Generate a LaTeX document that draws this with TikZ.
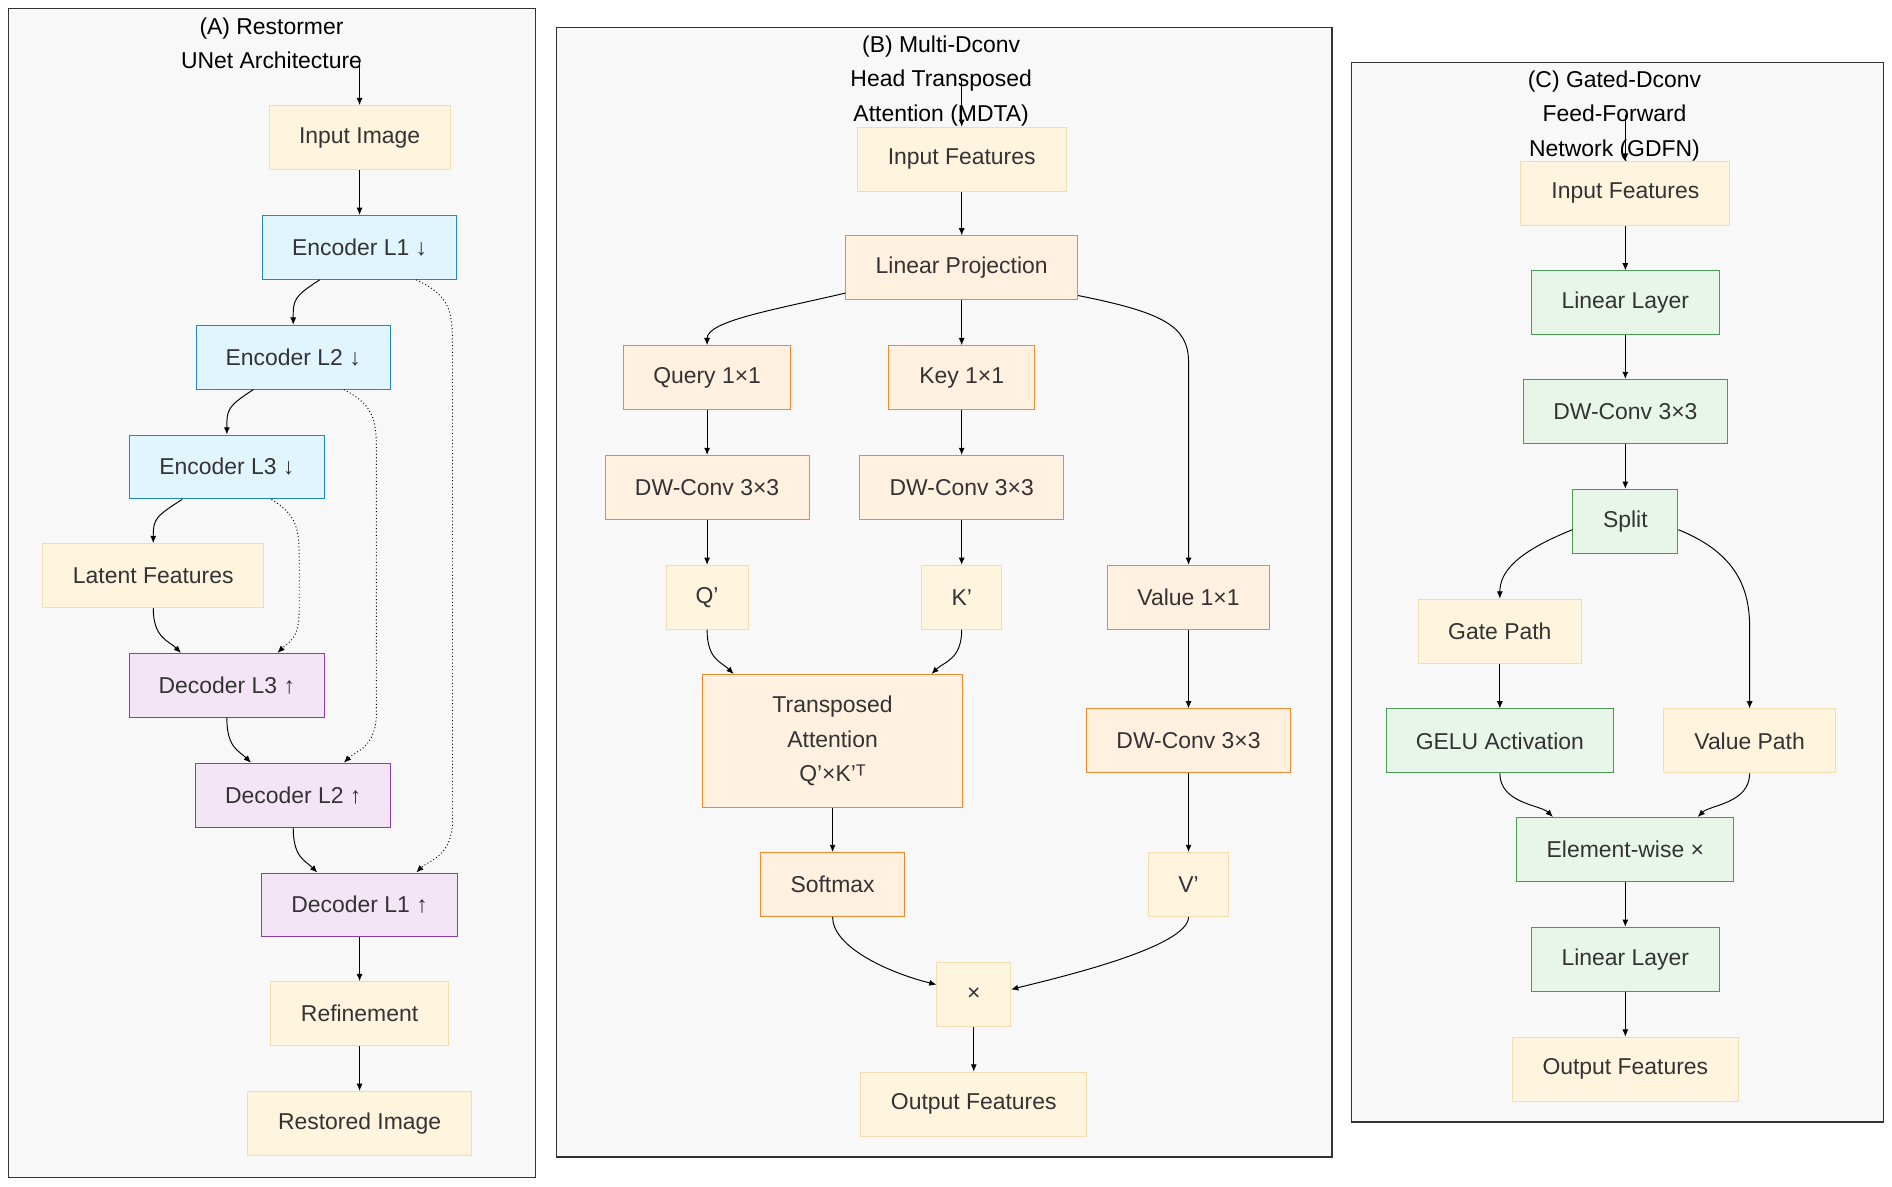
\documentclass[tikz,border=0pt]{standalone}
\usepackage{fontspec}
\setmainfont{Liberation Sans}
\usetikzlibrary{arrows.meta}
\newcommand\apo{\symbol{39}}
\definecolor{crF}{HTML}{FFF4DE}\definecolor{crD}{HTML}{F3DDB0}
\definecolor{blF}{HTML}{E1F5FE}\definecolor{blD}{HTML}{1E88C8}
\definecolor{puF}{HTML}{F3E5F5}\definecolor{puD}{HTML}{8E3AA8}
\definecolor{orF}{HTML}{FFF0DF}\definecolor{orD}{HTML}{EE8A2E}
\definecolor{grF}{HTML}{E8F5E9}\definecolor{grD}{HTML}{4A9A55}
\definecolor{txt}{HTML}{333333}
\definecolor{pnl}{HTML}{F8F8F8}
\begin{document}
\begin{tikzpicture}[x=1pt,y=-1pt,
 font=\fontsize{19}{23}\selectfont,
 b/.style={draw,line width=0.8pt,minimum height=53pt,inner sep=0pt,text=txt,align=center},
 cr/.style={b,fill=crF,draw=crD},
 bl/.style={b,fill=blF,draw=blD},
 pu/.style={b,fill=puF,draw=puD},
 orr/.style={b,fill=orF,draw=orD},
 gr/.style={b,fill=grF,draw=grD},
 panel/.style={draw=black!80,line width=1.2pt,fill=pnl},
 ttl/.style={font=\fontsize{19}{28.5}\selectfont,align=center,inner sep=0pt},
 e/.style={draw=black,line width=0.8pt,-{Latex[length=6pt,width=5pt]}},
 sk/.style={e,dotted}]
\useasboundingbox (0,0) rectangle (1568,983);
\fill[white] (0,0) rectangle (1568,983);
% panels
\draw[panel] (7,7) rectangle (444,976);
\draw[panel] (461,23) rectangle (1104,959);
\draw[panel] (1120,52) rectangle (1561,930);
\node[ttl] (ta) at (225,36) {(A) Restormer\\UNet Architecture};
\node[ttl] (tb) at (780,67) {(B) Multi-Dconv\\Head Transposed\\Attention (MDTA)};
\node[ttl] (tc) at (1338,96) {(C) Gated-Dconv\\Feed-Forward\\Network (GDFN)};
% panel A
\node[cr,minimum width=150pt] (in) at (298,114) {Input Image};
\node[bl,minimum width=161pt] (e1) at (298,205) {Encoder L1 ↓};
\node[bl,minimum width=161pt] (e2) at (243,296) {Encoder L2 ↓};
\node[bl,minimum width=161pt] (e3) at (188,387) {Encoder L3 ↓};
\node[cr,minimum width=183pt] (lat) at (127,477) {Latent Features};
\node[pu,minimum width=162pt] (d3) at (188,568) {Decoder L3 ↑};
\node[pu,minimum width=162pt] (d2) at (243,659) {Decoder L2 ↑};
\node[pu,minimum width=163pt] (d1) at (298,750) {Decoder L1 ↑};
\node[cr,minimum width=147pt] (ref) at (298,840) {Refinement};
\node[cr,minimum width=185pt] (out) at (298,931) {Restored Image};
\coordinate (sa) at (298,50);
\draw[e] (sa) -- (in);
\draw[e] (in) -- (e1);
\draw[e] ([xshift=-33pt]e1.south) .. controls +(-22,14) and +(0,-20) .. (e2.north);
\draw[e] ([xshift=-33pt]e2.south) .. controls +(-22,14) and +(0,-20) .. (e3.north);
\draw[e] ([xshift=-37pt]e3.south) .. controls +(-22,14) and +(0,-20) .. (lat.north);
\draw[e] (lat.south) .. controls +(0,25) and +(-10,-10) .. ([xshift=-38pt]d3.north);
\draw[e] (d3.south) .. controls +(0,25) and +(-10,-10) .. ([xshift=-35pt]d2.north);
\draw[e] (d2.south) .. controls +(0,25) and +(-10,-10) .. ([xshift=-35pt]d1.north);
\draw[e] (d1) -- (ref);
\draw[e] (ref) -- (out);
\draw[sk] ([xshift=47pt]e1.south) .. controls +(30,14) and +(0,-30) .. (375,290) -- (375,680) .. controls +(0,30) and +(10,-10) .. ([xshift=47pt]d1.north);
\draw[sk] ([xshift=42pt]e2.south) .. controls +(27,14) and +(0,-30) .. (312,380) -- (312,590) .. controls +(0,30) and +(10,-10) .. ([xshift=42pt]d2.north);
\draw[sk] ([xshift=37pt]e3.south) .. controls +(23,14) and +(0,-30) .. (248,470) -- (248,505) .. controls +(0,25) and +(10,-10) .. ([xshift=42pt]d3.north);
% panel B
\node[cr,minimum width=173pt] (bin) at (797,132) {Input Features};
\node[orr,minimum width=192pt] (lp) at (797,222) {Linear Projection};
\node[orr,minimum width=139pt] (q) at (586,313) {Query 1×1};
\node[orr,minimum width=121pt] (k) at (797,313) {Key 1×1};
\node[orr,minimum width=169pt] (dq) at (586,404) {DW-Conv 3×3};
\node[orr,minimum width=169pt] (dk) at (797,404) {DW-Conv 3×3};
\node[cr,minimum width=68pt] (qp) at (586,495) {Q\apo};
\node[cr,minimum width=66pt] (kp) at (797,495) {K\apo};
\node[orr,minimum width=134pt] (v) at (985,495) {Value 1×1};
\node[orr,minimum width=215pt,minimum height=110pt,font=\fontsize{19}{28.5}\selectfont] (ta2) at (690,614) {Transposed\\Attention\\Q\apo×K\apo ᵀ};
\node[orr,minimum width=169pt] (dv) at (985,614) {DW-Conv 3×3};
\node[orr,minimum width=119pt] (sm) at (690,733) {Softmax};
\node[cr,minimum width=67pt] (vp) at (985,733) {V\apo};
\node[cr,minimum width=61pt] (mul) at (807,824) {×};
\node[cr,minimum width=187pt] (bout) at (807,915) {Output Features};
\coordinate (sb) at (797,66);
\draw[e] (sb) -- (bin);
\draw[e] (bin) -- (lp);
\draw[e] ([yshift=6pt]lp.south west) .. controls +(-60,14) and +(0,-20) .. (q.north);
\draw[e] (lp) -- (k);
\draw[e] ([yshift=4pt]lp.south east) .. controls +(70,14) and +(0,-30) .. (985,300) -- (v.north);
\draw[e] (q) -- (dq); \draw[e] (k) -- (dk);
\draw[e] (dq) -- (qp); \draw[e] (dk) -- (kp);
\draw[e] (qp.south) .. controls +(0,25) and +(-10,-10) .. ([xshift=-82pt]ta2.north);
\draw[e] (kp.south) .. controls +(0,25) and +(10,-10) .. ([xshift=82pt]ta2.north);
\draw[e] (v) -- (dv); \draw[e] (dv) -- (vp);
\draw[e] (ta2) -- (sm);
\draw[e] (sm.south) .. controls +(0,25) and +(-40,-10) .. ([yshift=8pt]mul.west);
\draw[e] (vp.south) .. controls +(0,25) and +(40,-10) .. ([yshift=4pt]mul.east);
\draw[e] (mul) -- (bout);
% panel C
\node[cr,minimum width=173pt] (cin) at (1347,160) {Input Features};
\node[gr,minimum width=156pt] (l1) at (1347,251) {Linear Layer};
\node[gr,minimum width=169pt] (cdw) at (1347,341) {DW-Conv 3×3};
\node[gr,minimum width=87pt] (sp) at (1347,432) {Split};
\node[cr,minimum width=135pt] (gp) at (1243,523) {Gate Path};
\node[gr,minimum width=188pt] (gelu) at (1243,614) {GELU Activation};
\node[cr,minimum width=142pt] (vpath) at (1450,614) {Value Path};
\node[gr,minimum width=180pt] (ew) at (1347,704) {Element-wise ×};
\node[gr,minimum width=156pt] (l2) at (1347,795) {Linear Layer};
\node[cr,minimum width=187pt] (cout) at (1347,886) {Output Features};
\coordinate (sc) at (1347,95);
\draw[e] (sc) -- (cin);
\draw[e] (cin) -- (l1); \draw[e] (l1) -- (cdw); \draw[e] (cdw) -- (sp);
\draw[e] ([yshift=-7pt]sp.west) .. controls +(-50,20) and +(0,-20) .. (gp.north);
\draw[e] ([yshift=-7pt]sp.east) .. controls +(50,20) and +(0,-30) .. (1450,520) -- (vpath.north);
\draw[e] (gp) -- (gelu);
\draw[e] (gelu.south) .. controls +(0,25) and +(-10,-10) .. ([xshift=-60pt]ew.north);
\draw[e] (vpath.south) .. controls +(0,25) and +(10,-10) .. ([xshift=60pt]ew.north);
\draw[e] (ew) -- (l2); \draw[e] (l2) -- (cout);
\end{tikzpicture}
\end{document}
